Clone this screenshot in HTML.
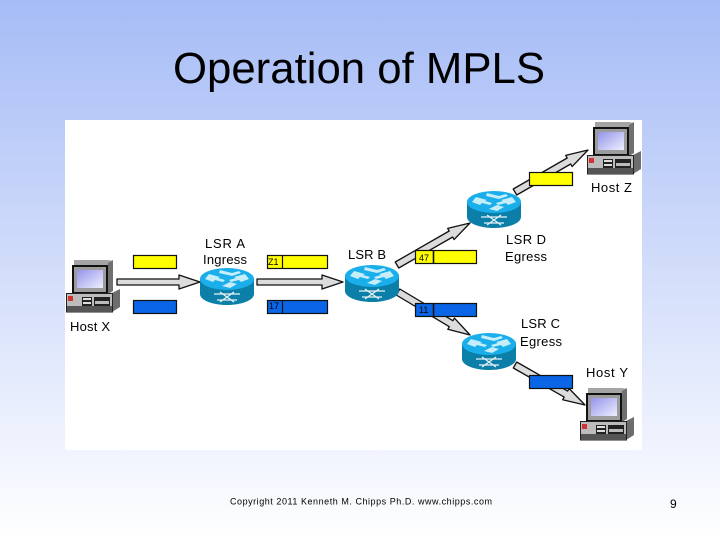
<!DOCTYPE html>
<html>
<head>
<meta charset="utf-8">
<style>
html,body{margin:0;padding:0;width:720px;height:540px;overflow:hidden;background:#fff}
svg{display:block}
text{font-family:"Liberation Sans",Arial,sans-serif;fill:#000}
</style>
</head>
<body>
<svg width="720" height="540" viewBox="0 0 720 540" xmlns="http://www.w3.org/2000/svg">
<defs>
<linearGradient id="bg" x1="0" y1="0" x2="0" y2="1">
<stop offset="0" stop-color="#a6bcf6"/>
<stop offset="1" stop-color="#ffffff"/>
</linearGradient>
<linearGradient id="scr" x1="0" y1="0" x2="1" y2="1">
<stop offset="0" stop-color="#9494ea"/>
<stop offset="1" stop-color="#eeeefe"/>
</linearGradient>
<g id="router">
<path d="M0 11V26C0 32 12 37 27 37S54 32 54 26V11Z" fill="#0c7fa9"/>
<ellipse cx="27" cy="11" rx="27" ry="11" fill="#1aaeea"/>
<path d="M9 6l11 3-2 1 7 2-2 2-8-2-2 2-8-3ZM45 6l-11 3 2 1-7 2 2 2 8-2 2 2 8-3ZM20 2l12 3 7-2 2 2-9 3-13-3ZM22 18l8-4 7 2-7 4Z" fill="#c6eefa"/>
<path d="M14 26H40M17 32H37M20 24L34 34M34 24L20 34" stroke="#e4f2f6" stroke-width="1.3" fill="none"/>
</g>
<g id="host">
<path d="M8 0H42L47 1V8L42 11H8Z" fill="#a4a4a4"/>
<path d="M42 3L47 0V31L42 34Z" fill="#707070"/>
<rect x="6" y="5" width="36" height="29" fill="#111"/>
<rect x="8" y="7" width="32" height="25" fill="#9c9c9c"/>
<rect x="11" y="10" width="26" height="18" fill="url(#scr)"/>
<path d="M46 33L54 29V47L46 52Z" fill="#6d6d6d"/>
<rect x="0.500" y="33.500" width="46" height="18.500" fill="#bcbcbc" stroke="#222" stroke-width="1"/>
<rect x="1" y="46" width="45" height="6" fill="#555"/>
<rect x="2" y="36" width="5" height="5" fill="#d23232"/>
<rect x="16" y="37" width="10" height="9" fill="#222"/>
<rect x="17" y="38" width="8" height="2" fill="#ddd"/>
<rect x="17" y="42" width="8" height="2" fill="#ddd"/>
<rect x="28" y="37" width="16" height="9" fill="#222"/>
<rect x="29" y="41" width="14" height="3" fill="#bbb"/>
</g>
</defs>

<rect width="720" height="540" fill="url(#bg)"/>
<text x="173" y="83" font-size="44" textLength="372" lengthAdjust="spacingAndGlyphs">Operation of MPLS</text>
<rect x="65" y="120" width="577" height="330" fill="#fff"/>

<g fill="#dcdcdc" stroke="#111" stroke-width="1.300" stroke-linejoin="round">
<polygon points="117,279 179,279 179,275 200,282 179,289 179,285 117,285"/>
<polygon points="257,279 322,279 322,275 343,282 322,289 322,285 257,285"/>
<polygon points="398.750,268 452.700,237 454.100,239.600 470,223 447.700,228.400 449.200,231 395.250,262"/>
<polygon points="516.750,195 570.700,164 572.100,166.600 588,150 565.700,155.400 567.200,158 513.250,189"/>
<polygon points="396.200,295 449.300,326.700 447.800,329.300 470,335 454.400,318.100 452.900,320.700 399.800,289"/>
<polygon points="513.300,368 564.200,397.100 562.700,399.700 585,405 569.100,388.500 567.600,391.100 516.700,362"/>
</g>

<use href="#router" x="200" y="268"/>
<use href="#router" x="345" y="265"/>
<use href="#router" x="467" y="191"/>
<use href="#router" x="462" y="333"/>

<use href="#host" x="66" y="260"/>
<use href="#host" x="587" y="122"/>
<use href="#host" x="580" y="388"/>

<g stroke="#111" stroke-width="1.200">
<rect x="133.500" y="255.500" width="43" height="13" fill="#ffff00"/>
<rect x="133.500" y="300.500" width="43" height="13" fill="#0a66e6"/>
<rect x="267.500" y="255.500" width="60" height="13" fill="#ffff00"/>
<rect x="267.500" y="300.500" width="60" height="13" fill="#0a66e6"/>
<path d="M282.500 255V269M282.500 300V314" fill="none"/>
<rect x="415.500" y="250.500" width="61" height="13" fill="#ffff00"/>
<rect x="415.500" y="303.500" width="61" height="13" fill="#0a66e6"/>
<path d="M433.500 250V264M433.500 303V317" fill="none" stroke-width="1.600"/>
<rect x="529.500" y="172.500" width="43" height="13" fill="#ffff00"/>
<rect x="529.500" y="375.500" width="43" height="13" fill="#0a66e6"/>
</g>

<g font-size="9">
<text x="268" y="265">Z1</text>
<text x="269" y="309">17</text>
<text x="419" y="261">47</text>
<text x="419" y="313">11</text>
</g>

<g font-size="13" lengthAdjust="spacing">
<text x="205" y="248" textLength="40">LSR A</text>
<text x="203" y="264" textLength="44">Ingress</text>
<text x="348" y="259" textLength="38">LSR B</text>
<text x="506" y="244" textLength="40">LSR D</text>
<text x="505" y="261" textLength="42">Egress</text>
<text x="521" y="328" textLength="39">LSR C</text>
<text x="520" y="346" textLength="42">Egress</text>
<text x="591" y="192" textLength="41">Host Z</text>
<text x="586" y="377" textLength="42">Host Y</text>
<text x="70" y="331" textLength="40">Host X</text>
</g>

<text x="230" y="504.500" font-size="9" textLength="262">Copyright 2011 Kenneth M. Chipps Ph.D. www.chipps.com</text>
<text x="670" y="508" font-size="12">9</text>
</svg>
</body>
</html>
